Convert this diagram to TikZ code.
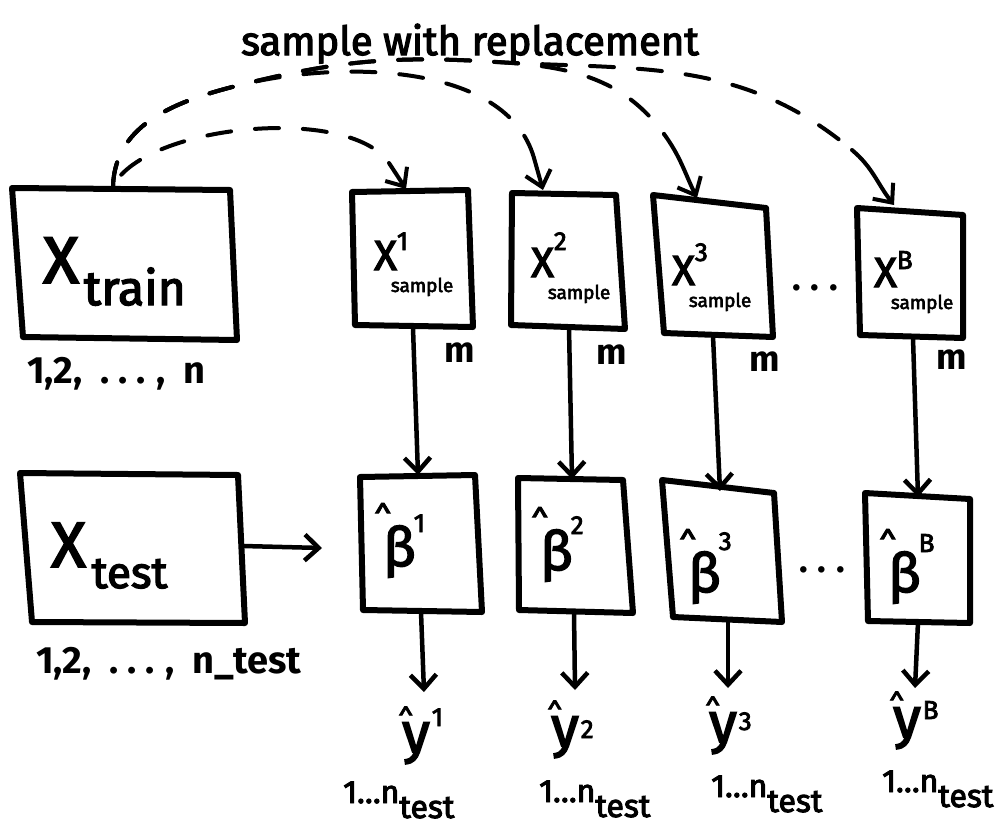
\documentclass[tikz,border=0pt]{standalone}
\usepackage{fontspec}
\setmainfont{Fira Sans}
\newfontfamily\hand{Fira Sans}[FakeBold=3]
\usetikzlibrary{arrows.meta}
\newcommand\fs[1]{\fontsize{#1}{#1}\selectfont}
\newcommand\sampx[2]{\fs{42}X\rlap{\raisebox{#2}{\fs{26}#1}}\hspace{-6pt}\raisebox{-22pt}{\fs{19}sample}}
\newcommand\betah[2]{\rlap{\hspace{-9pt}\raisebox{36pt}{\fs{32}\textasciicircum}}\fs{54}β\hspace{-2pt}\raisebox{#2}{\fs{26}#1}}
\newcommand\yhat[2]{\rlap{\hspace{-4pt}\raisebox{22pt}{\fs{28}\textasciicircum}}\fs{56}y\hspace{2pt}\raisebox{#2}{\fs{26}#1}}
\newcommand\ntest{\fs{32}1…n\raisebox{-15pt}{\fs{32}test}}
\begin{document}
\begin{tikzpicture}[x=1pt,y=-1pt,
  box/.style={line width=6pt, line join=round, line cap=round},
  conn/.style={line width=4.5pt, line cap=round, -{Straight Barb[length=14pt,width=26pt]}},
  arcline/.style={line width=4pt, line cap=round, dash pattern=on 24pt off 24pt},
  arctip/.style={line width=4pt, line cap=round, -{Straight Barb[length=15pt,width=26pt]}},
  lbl/.style={inner sep=0pt, anchor=base west},
  mlbl/.style={inner sep=0pt, anchor=base west, font=\fs{36}\bfseries}]
\useasboundingbox (0,0) rectangle (996,825);
\fill[white] (0,0) rectangle (996,825);

% boxes
\draw[box] (12,188) -- (230,190) -- (237,340) -- (23,337) -- cycle;
\draw[box] (20,473) -- (238,475) -- (245,623) -- (32,622) -- cycle;
\draw[box] (352,192) -- (468,190) -- (473,327) -- (355,325) -- cycle;
\draw[box] (512,193) -- (616,195) -- (625,329) -- (511,325) -- cycle;
\draw[box] (653,195) -- (766,208) -- (773,337) -- (664,333) -- cycle;
\draw[box] (857,208) -- (963,215) -- (963,338) -- (860,335) -- cycle;
\draw[box] (360,477) -- (475,475) -- (482,612) -- (363,610) -- cycle;
\draw[box] (518,478) -- (623,480) -- (633,613) -- (519,610) -- cycle;
\draw[box] (662,480) -- (774,493) -- (782,622) -- (673,617) -- cycle;
\draw[box] (865,493) -- (970,499) -- (970,623) -- (868,621) -- cycle;

% connector end points
\coordinate (trtop) at (113,186);
\coordinate (br1) at (240,85);
\coordinate (br2) at (480,61);
\coordinate (a1) at (389,163);
\coordinate (a2) at (534,158);
\coordinate (a3) at (664,134);
\coordinate (a4) at (852,150);
\coordinate (s1in) at (406,189);
\coordinate (s2in) at (543,190);
\coordinate (s3in) at (697,198);
\coordinate (s4in) at (894,205);
\coordinate (s1out) at (413,328);
\coordinate (s2out) at (569,328);
\coordinate (s3out) at (713,336);
\coordinate (s4out) at (913,338);
\coordinate (b1in) at (418,475);
\coordinate (b2in) at (572,479);
\coordinate (b3in) at (720,491);
\coordinate (b4in) at (918,497);
\coordinate (b1out) at (421,612);
\coordinate (b2out) at (574,612);
\coordinate (b3out) at (728,620);
\coordinate (b4out) at (918,622);
\coordinate (y1) at (424,692);
\coordinate (y2) at (575,690);
\coordinate (y3) at (728,688);
\coordinate (y4) at (915,688);
\coordinate (teout) at (243,546);
\coordinate (tearr) at (322,548);

% dashed arcs
\draw[arcline, dash phase=34pt] (trtop) to[out=62,in=124,looseness=0.65] (a1);
\draw[arctip] (a1) -- (s1in);
\draw[arcline] (trtop) to[out=88,in=194] (br1) to[out=14,in=106,looseness=0.85] (a2);
\draw[arctip] (a2) -- (s2in);
\draw[arcline] (trtop) to[out=88,in=194] (br1) to[out=14,in=177] (br2) to[out=-3,in=126] (a3);
\draw[arctip] (a3) to[out=-54,in=116] (s3in);
\draw[arcline] (trtop) to[out=88,in=194] (br1) to[out=14,in=177] (br2) to[out=-4,in=140] (a4);
\draw[arctip] (a4) to[out=-40,in=128] (s4in);

% arrows
\draw[conn] (s1out) -- (b1in);
\draw[conn] (s2out) -- (b2in);
\draw[conn] (s3out) -- (b3in);
\draw[conn] (s4out) -- (b4in);
\draw[conn] (b1out) -- (y1);
\draw[conn] (b2out) -- (y2);
\draw[conn] (b3out) -- (y3);
\draw[conn] (b4out) -- (y4);
\draw[conn] (teout) -- (tearr);

% texts
\node[inner sep=0pt, anchor=base] (title) at (470,55) {\hand\fs{40}sample with replacement};
\node[lbl] (xtrain) at (43,283) {\hand\fs{66}X\hspace{5pt}\raisebox{-22pt}{\fs{48}train}};
\node[lbl] (xtest) at (51,567) {\hand\fs{64}X\hspace{6pt}\raisebox{-21pt}{\fs{44}test}};
\node[lbl] (ntrain) at (27,383) {\fs{38}\bfseries 1,2,\hspace{18pt}.\hspace{9pt}.\hspace{9pt}.\hspace{10pt},\hspace{18pt}n};
\node[lbl] (ntst) at (36,673) {\fs{38}\bfseries 1,2,\hspace{18pt}.\hspace{9pt}.\hspace{9pt}.\hspace{10pt},\hspace{18pt}n\_test};

\node[lbl] (xs1) at (374,270) {\hand\sampx{1}{20pt}};
\node[lbl] (xs2) at (531,277) {\hand\sampx{2}{27pt}};
\node[lbl] (xs3) at (672,285) {\hand\sampx{3}{24pt}};
\node[lbl] (xs4) at (874,287) {\hand\sampx{B}{18pt}};

\node[mlbl] (m1) at (444,362) {m};
\node[mlbl] (m2) at (596,364) {m};
\node[mlbl] (m3) at (749,371) {m};
\node[mlbl] (m4) at (936,369) {m};

\node[inner sep=0pt, anchor=base] (dots1) at (815,290) {\fs{36}\bfseries .\hspace{10pt}.\hspace{10pt}.};
\node[inner sep=0pt, anchor=base] (dots2) at (822,572) {\fs{36}\bfseries .\hspace{10pt}.\hspace{10pt}.};

\node[lbl] (bt1) at (383,566) {\hand\betah{1}{34pt}};
\node[lbl] (bt2) at (540,570) {\hand\betah{2}{36pt}};
\node[lbl] (bt3) at (688,592) {\hand\betah{3}{42pt}};
\node[lbl] (bt4) at (888,592) {\hand\betah{B}{40pt}};

\node[lbl] (yh1) at (402,752) {\hand\yhat{1}{26pt}};
\node[lbl] (yh2) at (551,746) {\hand\yhat{2}{8pt}};
\node[lbl] (yh3) at (709,742) {\hand\yhat{3}{12pt}};
\node[lbl] (yh4) at (893,737) {\hand\yhat{B}{18pt}};

\node[lbl] (nt1) at (343,803) {\hand\ntest};
\node[lbl] (nt2) at (539,802) {\hand\ntest};
\node[lbl] (nt3) at (711,797) {\hand\ntest};
\node[lbl] (nt4) at (882,792) {\hand\ntest};
\end{tikzpicture}
\end{document}
